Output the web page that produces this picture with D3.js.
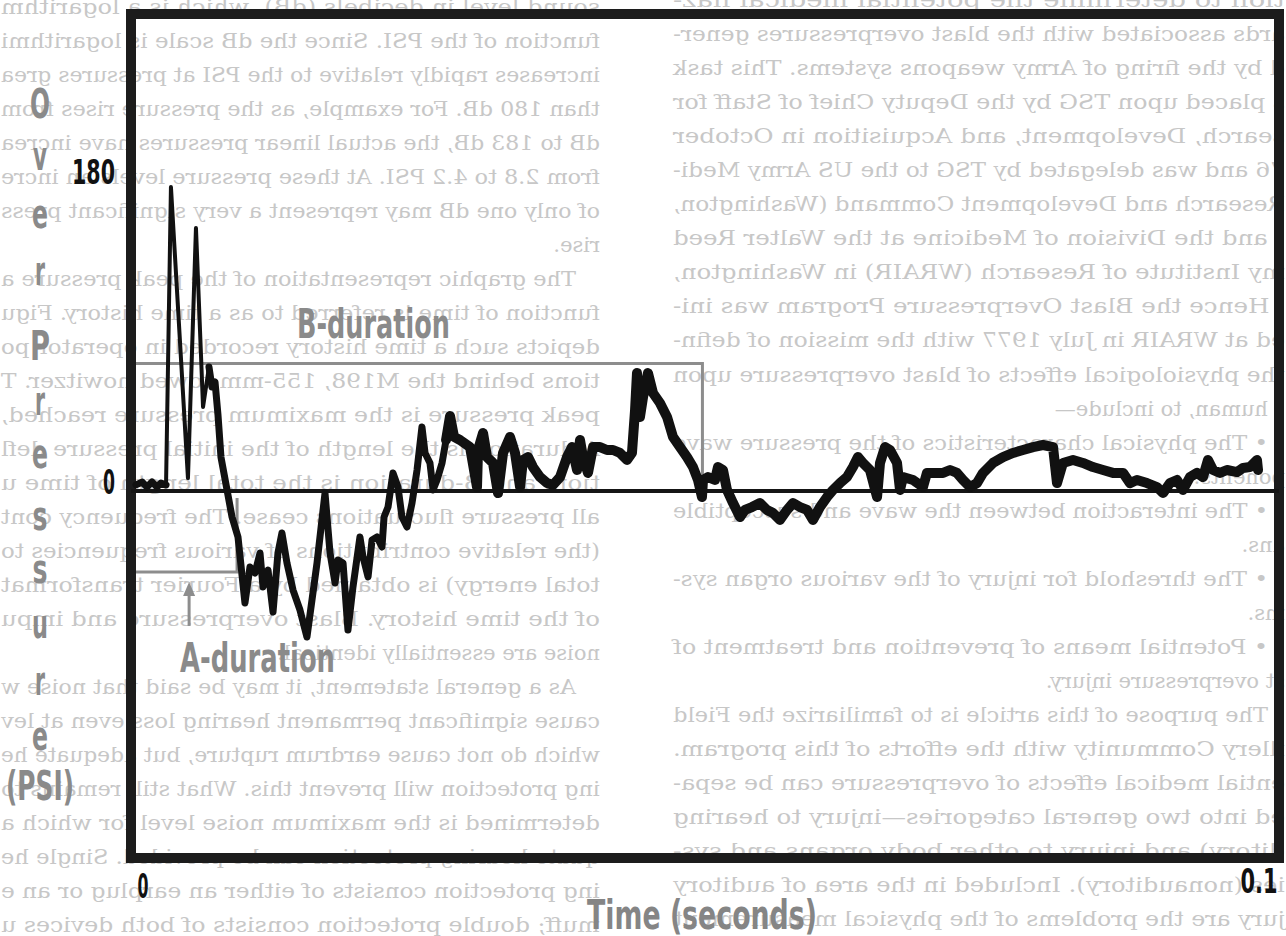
<!DOCTYPE html>
<html>
<head>
<meta charset="utf-8">
<script src="https://cdn.jsdelivr.net/npm/d3@7"></script>
<style>
  html, body { margin: 0; padding: 0; background: #fff; }
  svg { display: block; }
  .lbl { font-family: "Liberation Sans Narrow", "DejaVu Sans Condensed", "Roboto", sans-serif; font-weight: bold; }
  .page { font-family: "DejaVu Serif", serif; font-size: 21px; fill: #c7c7c7; }
</style>
</head>
<body>
<svg id="chart" width="1286" height="936"></svg>
<script>
// blast overpressure time history (time in ms, pressure in chart units)
const timeMs = [
  0, 0.53, 0.96, 1.40, 1.84, 2.19, 2.63, 3.06, 4.55, 5.25, 5.87, 6.39,
  6.65, 6.92, 7.18, 7.44, 7.97, 8.41, 8.93, 9.19, 9.54, 9.98, 10.42, 10.86,
  11.12, 11.56, 12.00, 12.43, 12.78, 13.22, 13.75, 14.36, 14.97, 15.41, 15.85, 16.55,
  16.99, 17.43, 17.69, 18.13, 18.56, 19.00, 19.61, 19.88, 20.32, 20.67, 21.10, 21.54,
  21.72, 22.07, 22.50, 22.94, 23.29, 23.73, 24.17, 24.61, 25.04, 25.31, 25.74, 26.01,
  26.36, 26.80, 27.15, 27.50, 27.85, 28.37, 29.25, 29.86, 29.95, 30.39, 30.74, 31.26,
  31.70, 32.14, 32.75, 33.19, 33.63, 33.89, 34.33, 34.76, 35.38, 35.99, 36.51, 37.13,
  37.74, 38.18, 38.62, 38.88, 39.14, 39.58, 40.02, 40.63, 41.24, 41.77, 42.38, 43.00,
  43.43, 43.70, 43.87, 44.13, 44.40, 44.83, 45.27, 45.88, 46.50, 47.02, 47.64, 48.25,
  48.77, 49.21, 49.56, 49.65, 50.09, 50.70, 50.96, 51.40, 51.75, 52.28, 52.89, 53.33,
  53.94, 54.64, 55.25, 55.78, 56.39, 57.01, 57.53, 58.14, 58.76, 59.28, 59.89, 60.51,
  61.03, 61.65, 62.26, 62.78, 63.22, 63.66, 64.27, 64.89, 65.15, 65.59, 66.02, 66.64,
  66.90, 67.16, 68.04, 68.91, 69.26, 69.79, 70.67, 71.28, 71.89, 72.42, 73.03, 73.64,
  74.17, 75.04, 75.92, 76.80, 77.67, 78.55, 79.42, 80.30, 80.65, 81.17, 82.05, 82.92,
  83.80, 84.68, 85.55, 86.43, 87.04, 87.65, 88.53, 89.40, 89.93, 90.54, 91.16, 91.68,
  92.29, 92.91, 93.43, 93.87, 94.31, 94.92, 95.53, 96.41, 96.94, 97.55, 98.16, 98.25
];
const pressure = [
  3.5, 5.2, 2.3, 5.2, 2.3, 4.6, 3.5, 176.5, 7.5, 152.7, 48.8, 72.0,
  60.4, 63.3, 44.1, 19.7, 0.6, -15.1, -26.7, -43.0, -65.0, -44.1, -47.6, -36.0,
  -55.7, -45.9, -70.3, -36.0, -24.4, -41.8, -57.5, -69.1, -84.8, -63.3, -41.8, -1.2,
  -36.0, -53.4, -40.1, -41.8, -80.7, -55.7, -26.7, -38.3, -49.9, -28.4, -26.7, -32.5,
  -15.1, -9.3, 10.5, 2.3, -15.1, -20.9, -7.0, 12.2, 37.2, 22.1, 16.3, 0.6,
  6.4, 16.3, 29.6, 43.5, 31.4, 29.6, 25.5, 2.3, 23.8, 33.7, 19.7, 16.3,
  -1.2, 22.1, 31.4, 22.1, 2.3, 18.0, 19.7, 13.9, 8.1, 4.6, 3.5, 8.1,
  19.7, 25.5, 12.2, 29.6, 19.7, 10.5, 25.5, 25.5, 23.8, 23.8, 22.1, 18.0,
  22.1, 47.0, 68.5, 43.0, 54.6, 68.5, 56.9, 51.1, 43.0, 31.4, 25.5, 19.7,
  13.9, 6.4, -3.5, 6.4, 8.1, 6.4, 13.9, 12.2, 0.6, -7.0, -15.1, -11.0,
  -9.3, -7.0, -11.0, -12.8, -16.8, -11.0, -7.0, -9.3, -11.0, -16.8, -9.3, -3.5,
  0.6, 4.6, 8.1, 13.9, 19.7, 16.3, 12.2, -3.5, 16.3, 25.5, 23.8, 16.3,
  0.6, 8.1, 6.4, 2.3, 10.5, 10.5, 10.5, 12.2, 10.5, 6.4, 2.3, 4.6,
  10.5, 16.3, 19.7, 22.1, 23.8, 25.5, 26.7, 25.5, 4.6, 16.3, 18.0, 16.3,
  13.9, 12.2, 10.5, 10.5, 4.6, 6.4, 4.6, 2.3, -1.2, 4.6, 6.4, 0.6,
  8.1, 10.5, 8.1, 18.0, 12.2, 10.5, 12.2, 11.0, 13.4, 13.9, 18.0, 12.2
];

const yTicks = [0, 180];
const xTicks = [0, 100];          // ms, shown in seconds
const yTitle = ["O", "v", "e", "r", "P", "r", "e", "s", "s", "u", "r", "e", "(PSI)"];
const xTitle = "Time (seconds)";

// durations marked on the trace
const aDurationMs = 8.85;
const bDurationMs = 49.6;
const aLevel = -47;
const bLevel = 74;
const arrowMs = 4.65;

// text from the back of the page showing through the paper (mirrored),
// only the part of each line that falls inside the picture
// ">" = indented line, "¶" = last line of a paragraph (not justified)
const pageLeftCol = [
  "tion to determine the potential medical haz-",
  "ards associated with the blast overpressures gener-",
  "d by the firing of Army weapons systems. This task",
  "s placed upon TSG by the Deputy Chief of Staff for",
  "search, Development, and Acquisition in October",
  "76 and was delegated by TSG to the US Army Medi-",
  "Research and Development Command (Washington,",
  ") and the Division of Medicine at the Walter Reed",
  "my Institute of Research (WRAIR) in Washington,",
  ". Hence the Blast Overpressure Program was ini-",
  "ed at WRAIR in July 1977 with the mission of defin-",
  "the physiological effects of blast overpressure upon",
  ">human, to include—¶",
  ">• The physical characteristics of the pressure wave",
  "ponents.¶",
  ">• The interaction between the wave and susceptible",
  "ans.¶",
  ">• The threshold for injury of the various organ sys-",
  "ms.¶",
  ">• Potential means of prevention and treatment of",
  "st overpressure injury.¶",
  ">The purpose of this article is to familiarize the Field",
  "illery Community with the efforts of this program.",
  "ential medical effects of overpressure can be sepa-",
  "ed into two general categories—injury to hearing",
  "ditory) and injury to other body organs and sys-",
  "ies (nonauditory). Included in the area of auditory",
  "jury are the problems of the physical measurement"
];
const pageRightCol = [
  "sound level in decibels (dB), which is a logarithm",
  "function of the PSI. Since the dB scale is logarithmi",
  "increases rapidly relative to the PSI at pressures grea",
  "than 180 dB. For example, as the pressure rises from",
  "dB to 183 dB, the actual linear pressures have increa",
  "from 2.8 to 4.2 PSI. At these pressure levels an incre",
  "of only one dB may represent a very significant press",
  "rise.¶",
  ">The graphic representation of the peak pressure a",
  "function of time is referred to as a time history. Figu",
  "depicts such a time history recorded in operator po",
  "tions behind the M198, 155-mm towed howitzer. T",
  "peak pressure is the maximum pressure reached,",
  "A-duration is the length of the initial pressure defl",
  "tion, and B-duration is the total length of time u",
  "all pressure fluctuations cease. The frequency cont",
  "(the relative contributions of various frequencies to",
  "total energy) is obtained by a Fourier transformat",
  "of the time history. Blast overpressure and impu",
  "noise are essentially identical.¶",
  ">As a general statement, it may be said that noise w",
  "cause significant permanent hearing loss even at lev",
  "which do not cause eardrum rupture, but adequate he",
  "ing protection will prevent this. What still remains to",
  "determined is the maximum noise level for which a",
  "quate hearing protection can be provided. Single he",
  "ing protection consists of either an earplug or an e",
  "muff; double protection consists of both devices u"
];

const svg = d3.select("#chart");
const W = 1286;

const x = d3.scaleLinear().domain([0, 100]).range([136, 1278]);
const y = d3.scaleLinear().domain([0, 180]).range([491, 181]);

// show-through page text, drawn mirrored
function drawColumn(g, lines, col) {
  lines.forEach((raw, i) => {
    let s = raw;
    let start = col.x;
    let justify = true;
    if (s.startsWith(">")) { s = s.slice(1); start = col.indentX; }
    if (s.endsWith("¶")) { s = s.slice(0, -1); justify = false; }
    const t = g.append("text")
      .attr("class", "page")
      .attr("x", start)
      .attr("y", col.y0 + (i - 1) * col.step)
      .text(s);
    if (justify) {
      t.attr("textLength", col.end - start)
        .attr("lengthAdjust", "spacingAndGlyphs");
    }
  });
}
const back = svg.append("g").attr("transform", `translate(${W},0) scale(-1,1)`);
drawColumn(back, pageLeftCol, { x: 1, indentX: 18, end: 613, y0: 41, step: 34.05 });
drawColumn(back, pageRightCol, { x: 686, indentX: 710, end: 1285, y0: 48, step: 34.0 });

// frame
svg.append("rect")
  .attr("x", 131).attr("y", 14)
  .attr("width", 1148).attr("height", 844)
  .attr("fill", "none")
  .attr("stroke", "#1c1c1c")
  .attr("stroke-width", 10);

// zero line
svg.append("line")
  .attr("x1", 131).attr("x2", 1279)
  .attr("y1", y(0)).attr("y2", y(0))
  .attr("stroke", "#151515")
  .attr("stroke-width", 4);

// duration markers
const grey = "#8d8d8d";
svg.append("path")
  .attr("d", `M${x(0)},${y(bLevel)} H${x(bDurationMs)} V${y(0) + 9}`)
  .attr("fill", "none").attr("stroke", grey).attr("stroke-width", 3);
svg.append("path")
  .attr("d", `M${x(0)},${y(aLevel)} H${x(aDurationMs)} V${y(0) + 7}`)
  .attr("fill", "none").attr("stroke", grey).attr("stroke-width", 3);

const ax = x(arrowMs), ay = y(aLevel) + 10;
svg.append("line")
  .attr("x1", ax).attr("x2", ax)
  .attr("y1", ay + 10).attr("y2", ay + 44)
  .attr("stroke", grey).attr("stroke-width", 3);
svg.append("path")
  .attr("d", `M${ax},${ay} L${ax - 6},${ay + 14} L${ax + 6},${ay + 14} Z`)
  .attr("fill", grey);

// trace, heavier where the recording gets noisy
const points = timeMs.map((t, i) => ({ t: t, p: pressure[i] }));
const segments = [
  { from: 0, to: 2.63, width: 7 },
  { from: 2.63, to: 6.39, width: 4 },
  { from: 6.39, to: 27.15, width: 7 },
  { from: 27.15, to: 100, width: 10 }
];
const line = d3.line().x(d => x(d.t)).y(d => y(d.p));
segments.forEach(seg => {
  svg.append("path")
    .datum(points.filter(d => d.t >= seg.from && d.t <= seg.to))
    .attr("d", line)
    .attr("fill", "none")
    .attr("stroke", "#111")
    .attr("stroke-width", seg.width)
    .attr("stroke-linejoin", "round")
    .attr("stroke-linecap", "round");
});

// axes (labels only)
const yAxis = svg.append("g")
  .attr("transform", "translate(126,0)")
  .call(d3.axisLeft(y).tickValues(yTicks).tickSize(0).tickPadding(11));
yAxis.select(".domain").remove();
yAxis.selectAll("text")
  .attr("class", "lbl")
  .attr("font-size", 34)
  .attr("fill", "#111")
  .attr("dy", 2)
  .attr("textLength", d => d === 180 ? 43 : 12)
  .attr("lengthAdjust", "spacingAndGlyphs");

const xAxis = svg.append("g")
  .attr("transform", "translate(0,858)")
  .call(d3.axisBottom(x).tickValues(xTicks).tickSize(0).tickFormat(d => d / 1000));
xAxis.select(".domain").remove();
xAxis.selectAll("text")
  .attr("class", "lbl")
  .attr("font-size", 34)
  .attr("fill", "#111")
  .attr("y", (d, i) => i === 0 ? 40 : 35)
  .attr("dy", 0)
  .attr("x", (d, i) => i === 0 ? 1 : -1)
  .attr("text-anchor", (d, i) => i === 0 ? "start" : "end")
  .attr("textLength", (d, i) => i === 0 ? 11 : 37)
  .attr("lengthAdjust", "spacingAndGlyphs");

// titles
const yTitleBase = [118, 170, 228, 285, 360, 415, 468, 530, 583, 638, 695, 750, 800];
const yTitleWidth = [20, 14, 16, 10, 20, 10, 16, 15, 15, 16, 10, 16, 68];
svg.append("g").selectAll("text")
  .data(yTitle)
  .join("text")
  .attr("class", "lbl")
  .attr("x", 40)
  .attr("y", (d, i) => yTitleBase[i])
  .attr("text-anchor", "middle")
  .attr("font-size", 40)
  .attr("fill", "#8a8a8a")
  .attr("textLength", (d, i) => yTitleWidth[i])
  .attr("lengthAdjust", "spacingAndGlyphs")
  .text(d => d);

svg.append("text")
  .attr("class", "lbl")
  .attr("x", 587).attr("y", 929)
  .attr("font-size", 40)
  .attr("fill", "#858585")
  .attr("textLength", 230)
  .attr("lengthAdjust", "spacingAndGlyphs")
  .text(xTitle);

svg.append("text")
  .attr("class", "lbl")
  .attr("x", 297).attr("y", 338)
  .attr("font-size", 40)
  .attr("fill", "#8a8a8a")
  .attr("textLength", 153)
  .attr("lengthAdjust", "spacingAndGlyphs")
  .text("B-duration");

svg.append("text")
  .attr("class", "lbl")
  .attr("x", 180).attr("y", 672)
  .attr("font-size", 40)
  .attr("fill", "#8a8a8a")
  .attr("textLength", 155)
  .attr("lengthAdjust", "spacingAndGlyphs")
  .text("A-duration");
</script>
</body>
</html>
